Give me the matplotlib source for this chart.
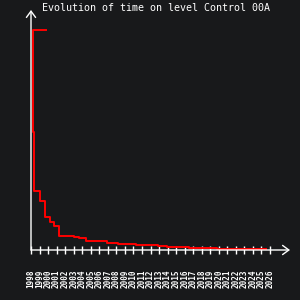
import matplotlib
matplotlib.use("Agg")
import matplotlib.pyplot as plt

# Record progression (decimal year, time value)
dates = [1999.72, 1998.29, 1998.39, 1999.11, 1999.68, 2000.17, 2000.73, 2001.25,
         2001.32, 2003.07, 2003.66, 2004.41, 2006.94, 2008.23, 2010.35, 2012.88,
         2013.97, 2016.47, 2019.75, 2025.50]
times = [220, 118.5, 59, 49.5, 32.7, 27.7, 24.5, 19, 13.7, 12.7, 11.7, 8.7,
         7, 6, 5, 3.7, 2.7, 1.7, 1.0, 1.0]
years = list(range(1998, 2027))
year_labels = [str(y) for y in years]
title = "Evolution of time on level Control 00A"

BG = "#18191b"
fig = plt.figure(figsize=(3, 3), dpi=100, facecolor=BG)
ax = fig.add_axes([31/300, 50/300, 259/300, 240/300])
ax.set_facecolor(BG)

ax.plot(dates, times, drawstyle="steps-post", color="#ff0000", lw=1.4, clip_on=False)

ax.set_xlim(1998, 1998 + 259/8.536)
ax.set_ylim(0, 240)
for s in ax.spines.values():
    s.set_visible(False)

arrow = dict(arrowstyle="->,head_length=0.45,head_width=0.33", color="white", lw=1.0,
             shrinkA=0, shrinkB=0, mutation_scale=10)
ax.annotate("", xy=(1, 0), xytext=(0, 0), xycoords="axes fraction",
            textcoords="axes fraction", arrowprops=arrow, annotation_clip=False)
ax.annotate("", xy=(0, 1), xytext=(0, 0), xycoords="axes fraction",
            textcoords="axes fraction", arrowprops=arrow, annotation_clip=False)

ax.set_xticks(years)
ax.set_xticklabels(year_labels, rotation=90, family="DejaVu Sans Mono",
                   fontweight="bold")
ax.tick_params(axis="x", direction="inout", length=6, width=1.0, colors="white",
               labelsize=5.5, pad=11)
ax.set_yticks([])

fig.text(155.5/300, 1 - 8/300, title, ha="center", va="center", color="white",
         fontsize=7.2, family="DejaVu Sans Mono")

fig.savefig("out.png", dpi=100, facecolor=BG)
